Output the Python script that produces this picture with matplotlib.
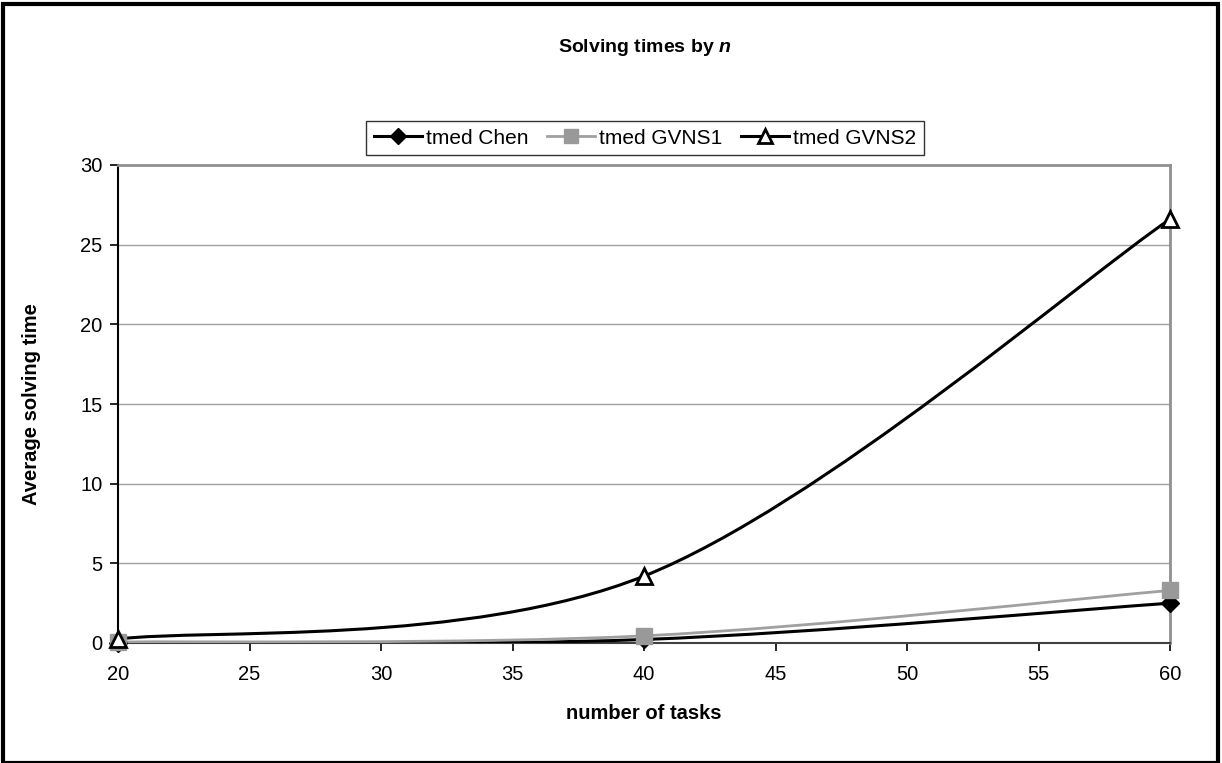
import matplotlib
matplotlib.use("Agg")
import matplotlib.pyplot as plt
from matplotlib.path import Path
from matplotlib.patches import PathPatch, Rectangle
from matplotlib.lines import Line2D
import numpy as np

plt.rcParams['font.family'] = ['Liberation Sans', 'DejaVu Sans']
plt.rcParams['mathtext.fontset'] = 'custom'
plt.rcParams['mathtext.rm'] = 'Liberation Sans'
plt.rcParams['mathtext.bf'] = 'Liberation Sans:bold'
plt.rcParams['mathtext.bfit'] = 'Liberation Sans:bold:italic'

n_tasks = [20, 40, 60]
tmed_chen = [0.03, 0.22, 2.5]
tmed_gvns1 = [0.06, 0.45, 3.3]
tmed_gvns2 = [0.25, 4.2, 26.6]
x_ticks = [20, 25, 30, 35, 40, 45, 50, 55, 60]
y_ticks = [0, 5, 10, 15, 20, 25, 30]


def smooth_path(xs, ys):
    P = np.column_stack([xs, ys]).astype(float)
    n = len(P)
    verts = [P[0]]
    codes = [Path.MOVETO]
    for i in range(n - 1):
        pm = P[max(i - 1, 0)]
        p0 = P[i]
        p1 = P[i + 1]
        p2 = P[min(i + 2, n - 1)]
        c1 = p0 + (p1 - pm) / 6.0
        c2 = p1 - (p2 - p0) / 6.0
        verts += [c1, c2, p1]
        codes += [Path.CURVE4] * 3
    return Path(verts, codes)


W, H = 1222, 763
fig = plt.figure(figsize=(W / 100, H / 100), dpi=100)
ax = fig.add_axes([118 / W, 1 - 643 / H, (1170 - 118) / W, (643 - 165) / H])

ax.set_xlim(20, 60)
ax.set_ylim(0, 30)
ax.set_xticks(x_ticks)
ax.set_yticks(y_ticks)
ax.tick_params(axis='both', direction='out', length=6, width=1.2, color='black',
               labelsize=14.5, pad=5)
ax.tick_params(axis='x', pad=10)

for y in y_ticks[1:-1]:
    ax.axhline(y, color='#a0a0a0', lw=1.0, zorder=0)

ax.spines['left'].set_color('black')
ax.spines['left'].set_linewidth(1.5)
ax.spines['bottom'].set_color('#404040')
ax.spines['bottom'].set_linewidth(1.5)
ax.spines['top'].set_color('#909090')
ax.spines['top'].set_linewidth(2.0)
ax.spines['right'].set_color('#909090')
ax.spines['right'].set_linewidth(2.0)

series = [
    (tmed_chen, 'black', 2.2, 'D', 'black', 'black', 9, 'tmed Chen'),
    (tmed_gvns1, '#a0a0a0', 2.0, 's', '#999999', '#999999', 11, 'tmed GVNS1'),
    (tmed_gvns2, 'black', 2.2, '^', 'white', 'black', 11, 'tmed GVNS2'),
]
handles = []
for k, (ys, lc, lw, mk, mfc, mec, ms, lab) in enumerate(series):
    patch = PathPatch(smooth_path(n_tasks, ys), facecolor='none', edgecolor=lc,
                      lw=lw, zorder=3 + k, clip_on=True)
    ax.add_patch(patch)
    ax.plot(n_tasks, ys, linestyle='none', marker=mk, markerfacecolor=mfc,
            markeredgecolor=mec, markeredgewidth=2 if mk == '^' else 1,
            markersize=ms, zorder=6 + k, clip_on=False)
    handles.append(Line2D([0], [0], color=lc, lw=lw, marker=mk, markerfacecolor=mfc,
                          markeredgecolor=mec, markeredgewidth=2 if mk == '^' else 1,
                          markersize=ms - 1, label=lab))

ax.set_xlabel('number of tasks', fontsize=14.5, fontweight='bold', labelpad=14)
ax.set_ylabel('Average solving time', fontsize=14.5, fontweight='bold', labelpad=28)

fig.text(645 / W, 1 - 47 / H, r'Solving times by $\mathbfit{n}$', ha='center', va='center',
         fontsize=14, fontweight='bold')

leg = fig.legend(handles=handles, loc='center', bbox_to_anchor=(645 / W, 1 - 138 / H),
                 ncol=3, frameon=True, fontsize=15, handlelength=2.3,
                 columnspacing=0.9, handletextpad=0.2, borderpad=0.35, fancybox=False)
leg.get_frame().set_edgecolor('black')
leg.get_frame().set_linewidth(1.0)

fig.patches.append(Rectangle((3 / W, 0), (W - 7) / W, 1 - 4 / H, transform=fig.transFigure,
                             fill=False, edgecolor='black', lw=3))

fig.savefig('out.png', dpi=100, facecolor='white')
